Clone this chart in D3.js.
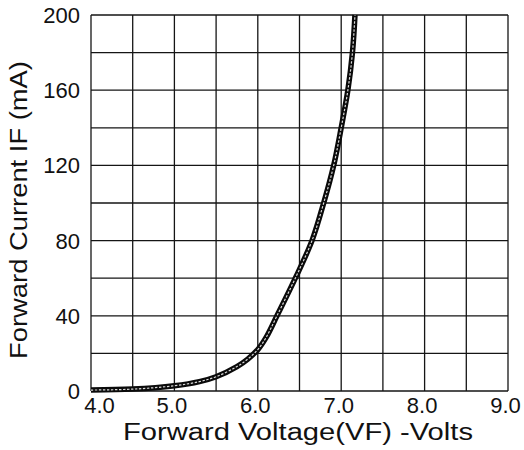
<!DOCTYPE html>
<html>
<head>
<meta charset="utf-8">
<script src="https://cdn.jsdelivr.net/npm/d3@7"></script>
<style>
  html, body { margin: 0; padding: 0; background: #fff; }
  svg { display: block; }
  text { font-family: "Liberation Sans", Arial, sans-serif; fill: #111; }
</style>
</head>
<body>
<svg id="chart" width="524" height="450"></svg>
<script>
// Forward voltage (V) vs forward current (mA)
const voltage = [4.0, 4.5, 5.0, 5.3, 5.5, 5.75, 5.88, 6.0, 6.1, 6.23, 6.45, 6.65, 6.79, 6.91, 7.0, 7.08, 7.135, 7.165];
const current = [0.5, 1.0, 2.8, 5.0, 7.6, 13, 17, 22, 28.5, 40, 60, 80, 100, 120, 140, 160, 180, 200];

const xTicks = [4.0, 5.0, 6.0, 7.0, 8.0, 9.0];
const yTicks = [0, 40, 80, 120, 160, 200];
const xGrid = d3.range(4.0, 9.01, 0.5);
const yGrid = d3.range(0, 200.1, 20);

const xTitle = "Forward Voltage(VF) -Volts";
const yTitle = "Forward Current IF (mA)";

const svg = d3.select("#chart");
const plotL = 91, plotR = 508, plotT = 15, plotB = 391;

const x = d3.scaleLinear().domain([4, 9]).range([plotL, plotR]);
const y = d3.scaleLinear().domain([0, 200]).range([plotB, plotT]);

// grid
const grid = svg.append("g").attr("stroke", "#151515").attr("stroke-width", 1.3);
grid.selectAll("line.v").data(xGrid).join("line").attr("class", "v")
  .attr("x1", d => x(d)).attr("x2", d => x(d))
  .attr("y1", plotT).attr("y2", plotB);
grid.selectAll("line.h").data(yGrid).join("line").attr("class", "h")
  .attr("x1", plotL).attr("x2", plotR)
  .attr("y1", d => y(d)).attr("y2", d => y(d));

// axes (labels only; lines come from the grid)
const xAxis = svg.append("g")
  .attr("transform", `translate(0,${plotB})`)
  .call(d3.axisBottom(x).tickValues(xTicks).tickFormat(d3.format(".1f")).tickSize(0).tickPadding(0));
xAxis.select(".domain").remove();
xAxis.selectAll("text")
  .attr("font-size", 22).attr("font-family", "Liberation Sans, Arial, sans-serif")
  .attr("fill", "#111")
  .attr("y", 22).attr("dy", 0)
  .attr("dx", (d, i) => i === 0 ? 8 : -3);

const yAxis = svg.append("g")
  .attr("transform", `translate(${plotL},0)`)
  .call(d3.axisLeft(y).tickValues(yTicks).tickSize(0).tickPadding(11));
yAxis.select(".domain").remove();
yAxis.selectAll("text")
  .attr("font-size", 22).attr("font-family", "Liberation Sans, Arial, sans-serif")
  .attr("fill", "#111")
  .attr("dy", "0.34em");

// curve
svg.append("clipPath").attr("id", "plot-clip")
  .append("rect").attr("x", plotL).attr("y", plotT - 2).attr("width", plotR - plotL).attr("height", plotB - plotT + 4);

const pts = voltage.map((v, i) => [v, current[i]]);
const line = d3.line().x(d => x(d[0])).y(d => y(d[1])).curve(d3.curveCatmullRom.alpha(0.5));

const curve = svg.append("g").attr("clip-path", "url(#plot-clip)");
curve.append("path").datum(pts).attr("d", line)
  .attr("fill", "none").attr("stroke", "#0a0a0a").attr("stroke-width", 5.5)
  .attr("stroke-linejoin", "round");
curve.append("path").datum(pts).attr("d", line)
  .attr("fill", "none").attr("stroke", "#fff").attr("stroke-width", 1.2)
  .attr("stroke-dasharray", "2.4,1.6").attr("opacity", 0.85);

// titles
svg.append("text")
  .attr("x", 298).attr("y", 440)
  .attr("text-anchor", "middle")
  .attr("font-size", 23)
  .attr("textLength", 350).attr("lengthAdjust", "spacingAndGlyphs")
  .text(xTitle);

svg.append("text")
  .attr("transform", "translate(27,210) rotate(-90)")
  .attr("text-anchor", "middle")
  .attr("font-size", 23)
  .attr("textLength", 298).attr("lengthAdjust", "spacingAndGlyphs")
  .text(yTitle);
</script>
</body>
</html>
